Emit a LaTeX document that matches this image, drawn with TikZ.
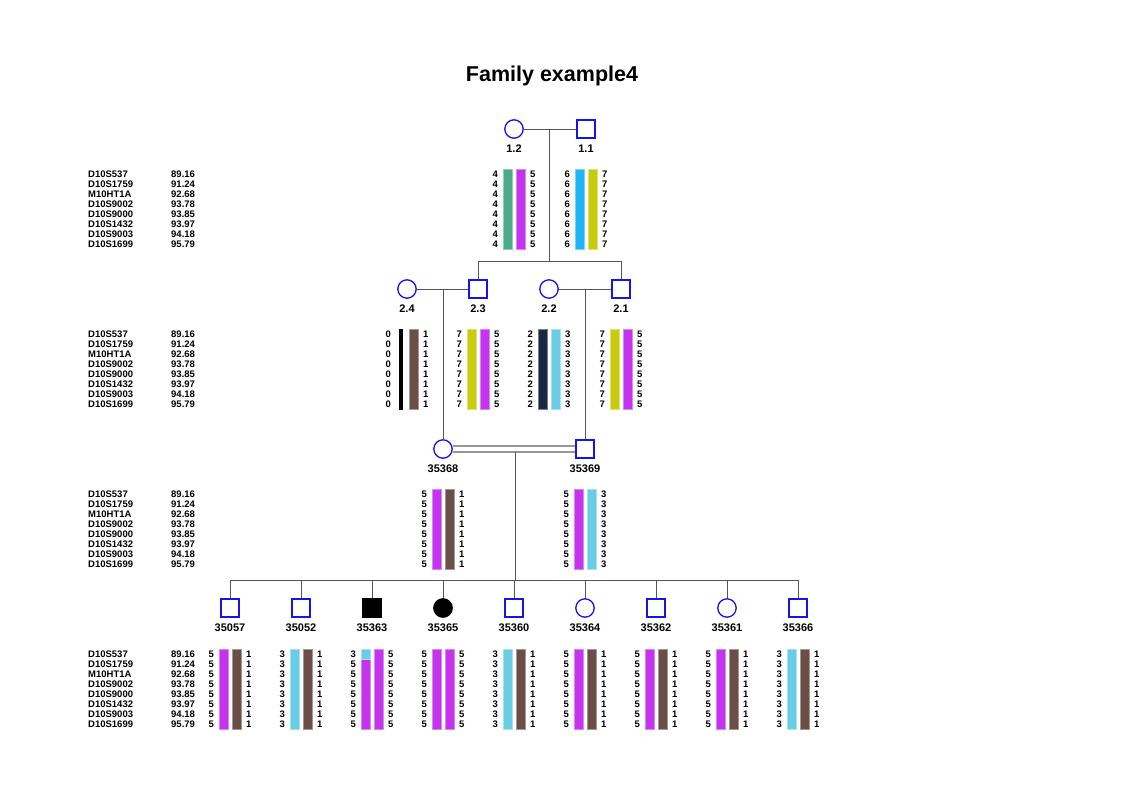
\documentclass[tikz,border=0pt]{standalone}
\usepackage{fontspec}
\setmainfont{Liberation Sans}
\usetikzlibrary{positioning}

\definecolor{symblue}{RGB}{20,20,240}
\definecolor{pedgray}{RGB}{85,85,85}
\definecolor{consgray}{RGB}{150,150,150}
\definecolor{hapbrown}{RGB}{107,78,72}
\definecolor{hapnavy}{RGB}{27,38,66}
\definecolor{haplight}{RGB}{106,205,230}
\definecolor{hapteal}{RGB}{74,170,138}
\definecolor{hapmag}{RGB}{196,52,236}
\definecolor{hapsky}{RGB}{30,180,245}
\definecolor{hapolive}{RGB}{200,204,16}

% two haplotype bars with allele numbers: name, x, top, first left allele, left allele, right allele
\newcommand{\hapbars}[6]{%
  \node[hapbar, a#5] (#1-bl) at (#2-6.5, #3+40) {};
  \node[hapbar, a#6] (#1-br) at (#2+6.5, #3+40) {};
  \node[allele, anchor=east] (#1-l0) at (#2-16, #3+5) {#4};
  \node[allele, anchor=west] (#1-r0) at (#2+16, #3+5) {#6};
  \foreach \r in {1,...,7} {
    \node[allele, anchor=east] (#1-l\r) at (#2-16, #3+5+10*\r) {#5};
    \node[allele, anchor=west] (#1-r\r) at (#2+16, #3+5+10*\r) {#6};
  }%
}

% marker names and positions: prefix, top
\newcommand{\markertable}[2]{%
  \foreach \mk/\cm [count=\r from 0] in {D10S537/89.16, D10S1759/91.24, M10HT1A/92.68, D10S9002/93.78, D10S9000/93.85, D10S1432/93.97, D10S9003/94.18, D10S1699/95.79} {
    \node[marker] (#1-mk\r) at (88, #2+5+10*\r) {\mk};
    \node[marker] (#1-cm\r) at (171, #2+5+10*\r) {\cm};
  }%
}

\begin{document}
\begin{tikzpicture}[
    x=1pt, y=-1pt,
    every node/.style={font=\bfseries, inner sep=0pt},
    male/.style={rectangle, draw=symblue, line width=1.3pt, minimum size=18pt},
    female/.style={circle, draw=symblue, line width=1.3pt, minimum size=18.4pt},
    affected/.style={draw=black, fill=black},
    idlabel/.style={font=\fontsize{11}{12}\selectfont\bfseries},
    allele/.style={font=\fontsize{9.5}{10}\selectfont\bfseries},
    marker/.style={font=\fontsize{9.5}{10}\selectfont\bfseries, anchor=west},
    hapbar/.style={rectangle, minimum width=9pt, minimum height=80pt, line width=0.6pt},
    a0/.style={fill=black, draw=black, minimum width=3pt},
    a1/.style={fill=hapbrown, draw=hapbrown!60!white},
    a2/.style={fill=hapnavy, draw=hapnavy!60!white},
    a3/.style={fill=haplight, draw=haplight!60!white},
    a4/.style={fill=hapteal, draw=hapteal!60!white},
    a5/.style={fill=hapmag, draw=hapmag!60!white},
    a6/.style={fill=hapsky, draw=hapsky!60!white},
    a7/.style={fill=hapolive, draw=hapolive!60!white},
    pedline/.style={draw=pedgray, line width=0.9pt},
    consline/.style={draw=consgray, line width=1.6pt},
    title/.style={font=\fontsize{21.5}{25}\selectfont\bfseries}
]
\useasboundingbox (0,0) rectangle (1122,793);

\node[title] (title) at (552,76) {Family example4};

% ============ GENERATION I ============
\node[female] (i12) at (514,129) {};
\node[male] (i11) at (586,129) {};
\node[idlabel] (l12) at (514,149) {1.2};
\node[idlabel] (l11) at (586,149) {1.1};
\markertable{g1}{169}
\hapbars{h12}{514}{169}{4}{4}{5}
\hapbars{h11}{586}{169}{6}{6}{7}

% ============ GENERATION II ============
\node[female] (i24) at (407,289) {};
\node[male] (i23) at (478,289) {};
\node[female] (i22) at (549,289) {};
\node[male] (i21) at (621,289) {};
\node[idlabel] (l24) at (407,309) {2.4};
\node[idlabel] (l23) at (478,309) {2.3};
\node[idlabel] (l22) at (549,309) {2.2};
\node[idlabel] (l21) at (621,309) {2.1};
\markertable{g2}{329}
\hapbars{h24}{407}{329}{0}{0}{1}
\hapbars{h23}{478}{329}{7}{7}{5}
\hapbars{h22}{549}{329}{2}{2}{3}
\hapbars{h21}{621}{329}{7}{7}{5}

% ============ GENERATION III ============
\node[female] (k35368) at (443,449) {};
\node[male] (k35369) at (585,449) {};
\node[idlabel] (l35368) at (443,469) {35368};
\node[idlabel] (l35369) at (585,469) {35369};
\markertable{g3}{489}
\hapbars{h35368}{443}{489}{5}{5}{1}
\hapbars{h35369}{585}{489}{5}{5}{3}

% ============ GENERATION IV ============
\node[male] (c35057) at (230,608) {};
\node[male] (c35052) at (301,608) {};
\node[male, affected] (c35363) at (372,608) {};
\node[female, affected] (c35365) at (443,608) {};
\node[male] (c35360) at (514,608) {};
\node[female] (c35364) at (585,608) {};
\node[male] (c35362) at (656,608) {};
\node[female] (c35361) at (727,608) {};
\node[male] (c35366) at (798,608) {};
\foreach \id/\x in {35057/230, 35052/301, 35363/372, 35365/443, 35360/514, 35364/585, 35362/656, 35361/727, 35366/798}
  \node[idlabel] (l\id) at (\x,628) {\id};
\markertable{g4}{649}
\hapbars{h35057}{230}{649}{5}{5}{1}
\hapbars{h35052}{301}{649}{3}{3}{1}
\hapbars{h35363}{372}{649}{3}{5}{5}
\node[hapbar, a3, minimum height=10pt, anchor=north] (h35363-top) at (372-6.5,649) {};
\hapbars{h35365}{443}{649}{5}{5}{5}
\hapbars{h35360}{514}{649}{3}{3}{1}
\hapbars{h35364}{585}{649}{5}{5}{1}
\hapbars{h35362}{656}{649}{5}{5}{1}
\hapbars{h35361}{727}{649}{5}{5}{1}
\hapbars{h35366}{798}{649}{3}{3}{1}

% ============ CONNECTORS ============
\coordinate (m1) at (549,129);
\coordinate (s1) at (549,261);
\draw[pedline] (i12.east) -- (i11.west);
\draw[pedline] (m1) -- (s1);
\draw[pedline] (i23 |- s1) -- (i21 |- s1);
\draw[pedline] (i23 |- s1) -- (i23.north);
\draw[pedline] (i21 |- s1) -- (i21.north);

\coordinate (m2) at (443,289);
\coordinate (m3) at (585,289);
\draw[pedline] (i24.east) -- (i23.west);
\draw[pedline] (i22.east) -- (i21.west);
\draw[pedline] (m2) -- (k35368.north);
\draw[pedline] (m3) -- (k35369.north);

\draw[consline] ([yshift=3.2pt]k35368.east) -- ([yshift=3.2pt]k35369.west);
\draw[consline] ([yshift=-3pt]k35368.east) -- ([yshift=-3pt]k35369.west);
\coordinate (m4) at (515,452);
\coordinate (s4) at (515,580);
\draw[pedline] (m4) -- (s4);
\draw[pedline] (c35057 |- s4) -- (c35366 |- s4);
\foreach \id in {35057, 35052, 35363, 35365, 35360, 35364, 35362, 35361, 35366}
  \draw[pedline] (c\id |- s4) -- (c\id.north);

\end{tikzpicture}
\end{document}
